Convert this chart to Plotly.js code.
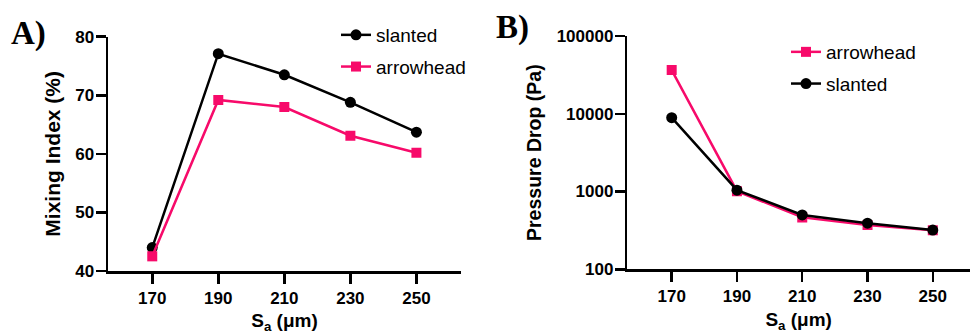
<!DOCTYPE html>
<html>
<head>
<meta charset="utf-8">
<script src="https://cdn.plot.ly/plotly-3.0.1.min.js"></script>
<style>html,body{margin:0;padding:0;background:#fff;}#chart{width:970px;height:334px;}</style>
</head>
<body>
<div id="chart"></div>
<script>
const sa = [170, 190, 210, 230, 250];
const mixSlanted = [44.0, 77.1, 73.5, 68.8, 63.7];
const mixArrowhead = [42.5, 69.2, 68.0, 63.1, 60.2];
const dpArrowhead = [36500, 1010, 465, 370, 318];
const dpSlanted = [8900, 1040, 500, 392, 320];
const xTicks = [170, 190, 210, 230, 250];
const mixTicks = [40, 50, 60, 70, 80];
const dpTicks = [100, 1000, 10000, 100000];
const dpTickText = ['100', '1000', '10000', '100000'];

const PINK = '#f70a6a';
const BLACK = '#000000';
const tickFont = {family: 'Arial, Liberation Sans', size: 17, color: '#000', weight: 'bold'};
const titleFont = {family: 'Arial, Liberation Sans', size: 19, color: '#000', weight: 'bold'};
const legFont = {family: 'Arial, Liberation Sans', size: 19, color: '#000'};

function line(color){ return {color: color, width: 2.5}; }

const traces = [
  {x: sa, y: mixSlanted, name: 'slanted', mode: 'lines+markers', xaxis: 'x', yaxis: 'y',
   line: line(BLACK), marker: {symbol: 'circle', size: 11, color: BLACK}, legend: 'legend', legendgroup: 'a1'},
  {x: sa, y: mixArrowhead, name: 'arrowhead', mode: 'lines+markers', xaxis: 'x', yaxis: 'y',
   line: line(PINK), marker: {symbol: 'square', size: 10, color: PINK}, legend: 'legend', legendgroup: 'a2'},
  {x: sa, y: dpArrowhead, name: 'arrowhead', mode: 'lines+markers', xaxis: 'x2', yaxis: 'y2',
   line: line(PINK), marker: {symbol: 'square', size: 10, color: PINK}, legend: 'legend2', legendgroup: 'b1'},
  {x: sa, y: dpSlanted, name: 'slanted', mode: 'lines+markers', xaxis: 'x2', yaxis: 'y2',
   line: line(BLACK), marker: {symbol: 'circle', size: 11, color: BLACK}, legend: 'legend2', legendgroup: 'b2'}
];

const axisCommon = {
  showline: true, linecolor: '#000', linewidth: 2.5, ticks: 'outside', ticklen: 10, tickwidth: 2.5,
  tickcolor: '#000', showgrid: false, zeroline: false, tickfont: tickFont, mirror: false
};

const W = 970, H = 334;
const layout = {
  width: W, height: H,
  margin: {l: 0, r: 0, t: 0, b: 0},
  paper_bgcolor: '#fff', plot_bgcolor: '#fff',
  showlegend: true,
  xaxis: Object.assign({}, axisCommon, {
    domain: [108/W, 461/W], range: [156.6, 263.5], tickvals: xTicks, anchor: 'y',
    title: {text: 'S<sub>a</sub> (μm)', font: titleFont, standoff: 8}
  }),
  yaxis: Object.assign({}, axisCommon, {
    domain: [1 - 271/H, 1 - 36.7/H], range: [40, 80], tickvals: mixTicks, anchor: 'x', ticklabelstandoff: -2,
    title: {text: 'Mixing Index (%)', font: Object.assign({}, titleFont, {size: 21}), standoff: 9}
  }),
  xaxis2: Object.assign({}, axisCommon, {
    domain: [627.3/W, 1], range: [156.4, 261.4], tickvals: xTicks, anchor: 'y2',
    title: {text: 'S<sub>a</sub> (μm)', font: titleFont, standoff: 8}
  }),
  yaxis2: Object.assign({}, axisCommon, {
    type: 'log', domain: [1 - 269.3/H, 1 - 36/H], range: [2, 5], tickvals: dpTicks, ticktext: dpTickText, anchor: 'x2',
    ticklabelstandoff: -2,
    title: {text: 'Pressure Drop (Pa)', font: Object.assign({}, titleFont, {size: 19.5}), standoff: 10}
  }),
  legend: {x: 336/W, y: 1 - 16/H, xanchor: 'left', yanchor: 'top', font: legFont, bgcolor: 'rgba(0,0,0,0)',
           tracegroupgap: 4, traceorder: 'grouped', itemwidth: 30},
  legend2: {x: 786/W, y: 1 - 33/H, xanchor: 'left', yanchor: 'top', font: legFont, bgcolor: 'rgba(0,0,0,0)',
            tracegroupgap: 4, traceorder: 'grouped', itemwidth: 30},
  annotations: [
    {text: 'A)', xref: 'paper', yref: 'paper', x: 9/W, y: 1 - 13/H, xanchor: 'left', yanchor: 'top', showarrow: false,
     font: {family: 'Times New Roman, Liberation Serif', size: 33, color: '#000', weight: 'bold'}},
    {text: 'B)', xref: 'paper', yref: 'paper', x: 494/W, y: 1 - 7/H, xanchor: 'left', yanchor: 'top', showarrow: false,
     font: {family: 'Times New Roman, Liberation Serif', size: 33, color: '#000', weight: 'bold'}}
  ]
};

Plotly.newPlot('chart', traces, layout, {displayModeBar: false, staticPlot: true});
</script>
</body>
</html>
